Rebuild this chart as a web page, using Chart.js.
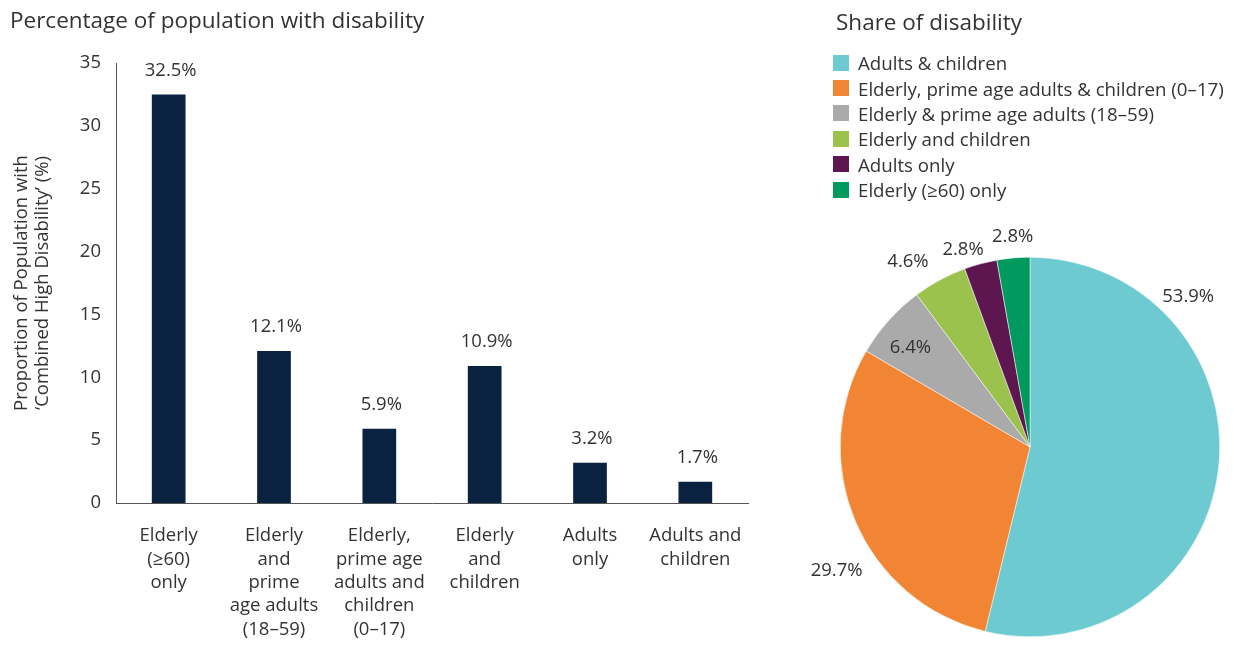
<!DOCTYPE html>
<html>
<head>
<meta charset="utf-8">
<title>Disability charts</title>
<script src="https://cdn.jsdelivr.net/npm/chart.js@4.4.1/dist/chart.umd.min.js"></script>
<style>
    body { margin: 0; background: #fff; font-family: "Open Sans", sans-serif; color: #333; }
    #wrap { position: relative; width: 1234px; height: 646px; overflow: hidden; }
    #bar-box { position: absolute; left: 0; top: 0; width: 780px; height: 646px; }
    #pie-box { position: absolute; left: 780px; top: 0; width: 454px; height: 646px; }
    #pie-title { position: absolute; left: 836px; top: 7px; font-size: 22.5px; line-height: 30px; }
    #pie-legend { position: absolute; left: 833px; top: 50px; }
    .legend-item { display: flex; align-items: center; height: 25.4px; font-size: 18.7px; }
    .swatch { width: 16px; height: 16px; margin-right: 9px; flex: none; }
</style>
</head>
<body>
<div id="wrap">
    <div id="bar-box"><canvas id="bar-chart"></canvas></div>
    <div id="pie-box"><canvas id="pie-chart"></canvas></div>
    <div id="pie-title">Share of disability</div>
    <div id="pie-legend"></div>
</div>
<script>
// Household groups (x axis, one line per array entry)
const groupLabels = [
    ['Elderly', '(≥60)', 'only'],
    ['Elderly', 'and', 'prime', 'age adults', '(18–59)'],
    ['Elderly,', 'prime age', 'adults and', 'children', '(0–17)'],
    ['Elderly', 'and', 'children'],
    ['Adults', 'only'],
    ['Adults and', 'children']
];
// Percentage of population with combined high disability
const disabilityPct = [32.5, 12.1, 5.9, 10.9, 3.2, 1.7];
const yMax = 35;
const yStep = 5;

// Share of disability by household type
const shareLabels = [
    'Adults & children',
    'Elderly, prime age adults & children (0–17)',
    'Elderly & prime age adults (18–59)',
    'Elderly and children',
    'Adults only',
    'Elderly (≥60) only'
];
const shareValues = [53.9, 29.7, 6.4, 4.6, 2.8, 2.8];
const shareColors = ['#6ccad0', '#f28534', '#aaaaaa', '#9bc24c', '#5e1650', '#009a5e'];

const textColor = '#333';
const fontFamily = '"Open Sans", sans-serif';
const textSize = 18.5;

// Writes "xx.x%" above each bar
const barValueLabels = {
    id: 'barValueLabels',
    afterDatasetsDraw(chart) {
        const ctx = chart.ctx;
        const meta = chart.getDatasetMeta(0);
        ctx.save();
        ctx.font = `${textSize}px ${fontFamily}`;
        ctx.fillStyle = textColor;
        ctx.textAlign = 'center';
        ctx.textBaseline = 'middle';
        meta.data.forEach((bar, i) => {
            ctx.fillText(disabilityPct[i].toFixed(1) + '%', bar.x + 2, bar.y - 24);
        });
        ctx.restore();
    }
};

// Where each pie label sits: fraction along the slice, and distance as a multiple of the radius
const pieLabelAlong = [0.24, 0.41, 0.41, 0.2, 0.14, 0.53];
const pieLabelRadius = [1.15, 1.21, 0.82, 1.17, 1.1, 1.11];

const pieValueLabels = {
    id: 'pieValueLabels',
    afterDatasetsDraw(chart) {
        const ctx = chart.ctx;
        const meta = chart.getDatasetMeta(0);
        ctx.save();
        ctx.font = `${textSize}px ${fontFamily}`;
        ctx.fillStyle = textColor;
        ctx.textAlign = 'center';
        ctx.textBaseline = 'middle';
        meta.data.forEach((arc, i) => {
            const a = arc.startAngle + (arc.endAngle - arc.startAngle) * pieLabelAlong[i];
            const r = arc.outerRadius * pieLabelRadius[i];
            ctx.fillText(shareValues[i].toFixed(1) + '%', arc.x + Math.cos(a) * r, arc.y + Math.sin(a) * r);
        });
        ctx.restore();
    }
};

new Chart(document.getElementById('bar-chart'), {
    type: 'bar',
    data: {
        labels: groupLabels,
        datasets: [{
            data: disabilityPct,
            backgroundColor: '#0a2240',
            barPercentage: 0.32,
            categoryPercentage: 1
        }]
    },
    options: {
        responsive: true,
        maintainAspectRatio: false,
        animation: false,
        layout: { padding: { left: 10, right: 32, top: 0, bottom: 0 } },
        plugins: {
            legend: { display: false },
            tooltip: { enabled: false },
            title: {
                display: true,
                text: 'Percentage of population with disability',
                align: 'start',
                color: textColor,
                font: { family: fontFamily, size: 22.5, weight: 'normal' },
                padding: { top: 8, bottom: 28 }
            }
        },
        scales: {
            x: {
                grid: { display: false },
                border: { display: true, color: '#555', width: 1 },
                ticks: {
                    color: textColor,
                    font: { family: fontFamily, size: textSize, lineHeight: 1.27 },
                    padding: 13,
                    maxRotation: 0,
                    autoSkip: false
                },
                afterFit(scale) { scale.height = 143; }
            },
            y: {
                min: 0,
                max: yMax,
                grid: { display: false },
                border: { display: true, color: '#555', width: 1 },
                ticks: {
                    stepSize: yStep,
                    color: textColor,
                    font: { family: fontFamily, size: textSize },
                    padding: 7
                },
                title: {
                    display: true,
                    text: ['Proportion of Population with', '‘Combined High Disability’ (%)'],
                    color: textColor,
                    font: { family: fontFamily, size: textSize, lineHeight: 1.13 },
                    padding: { top: 1, bottom: 4 }
                },
                afterFit(scale) { scale.width = 106; }
            }
        }
    },
    plugins: [barValueLabels]
});

new Chart(document.getElementById('pie-chart'), {
    type: 'pie',
    data: {
        labels: shareLabels,
        datasets: [{
            data: shareValues,
            backgroundColor: shareColors,
            borderColor: '#fff',
            borderWidth: 0.5
        }]
    },
    options: {
        responsive: true,
        maintainAspectRatio: false,
        animation: false,
        layout: { padding: { top: 257, bottom: 9, left: 60, right: 14 } },
        plugins: {
            legend: { display: false },
            tooltip: { enabled: false }
        }
    },
    plugins: [pieValueLabels]
});

// Legend for the pie, one row per household type
const legendBox = document.getElementById('pie-legend');
shareLabels.forEach((label, i) => {
    const row = document.createElement('div');
    row.className = 'legend-item';
    const swatch = document.createElement('span');
    swatch.className = 'swatch';
    swatch.style.background = shareColors[i];
    const text = document.createElement('span');
    text.textContent = label;
    row.appendChild(swatch);
    row.appendChild(text);
    legendBox.appendChild(row);
});
</script>
</body>
</html>
